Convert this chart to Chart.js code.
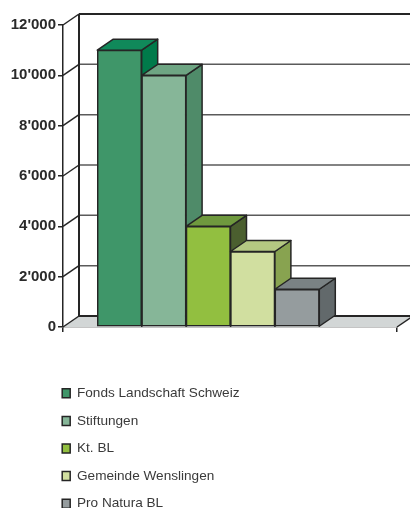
<!DOCTYPE html>
<html>
<head>
<meta charset="utf-8">
<style>
  html, body { margin: 0; padding: 0; background: #fff; overflow: hidden; }
  #wrap { width: 410px; height: 508px; }
</style>
<script src="https://cdn.jsdelivr.net/npm/chart.js@4"></script>
</head>
<body>
<div id="wrap"><canvas id="chart" width="410" height="508"></canvas></div>
<script>
const seriesNames = ["Fonds Landschaft Schweiz", "Stiftungen", "Kt. BL", "Gemeinde Wenslingen", "Pro Natura BL"];
const seriesValues = [11000, 10000, 4000, 3000, 1500];
const frontColors = ["#3f9669", "#86b698", "#92bf40", "#d1dfa0", "#959c9e"];
const topColors = ["#10895a", "#6ea583", "#6f993e", "#b4c882", "#7a8284"];
const sideColors = ["#007a4a", "#4f8b69", "#4b5f2f", "#88a350", "#62696b"];

const depthX = 16;
const depthY = -11;
const outline = "#252525";

function line(ctx, x1, y1, x2, y2, color, width) {
    ctx.beginPath();
    ctx.moveTo(x1, y1);
    ctx.lineTo(x2, y2);
    ctx.strokeStyle = color;
    ctx.lineWidth = width;
    ctx.stroke();
}

function poly(ctx, pts, fill) {
    ctx.beginPath();
    pts.forEach((p, i) => i ? ctx.lineTo(p[0], p[1]) : ctx.moveTo(p[0], p[1]));
    ctx.closePath();
    ctx.fillStyle = fill;
    ctx.fill();
    ctx.strokeStyle = outline;
    ctx.lineWidth = 1.5;
    ctx.lineJoin = "round";
    ctx.stroke();
}

// floor, back wall and grid, hanging off the y scale
const walls = {
    id: 'walls',
    beforeDatasetsDraw(chart) {
        const ctx = chart.ctx, a = chart.chartArea, y = chart.scales.y;
        const base = y.getPixelForValue(0), top = y.getPixelForValue(12000);
        ctx.save();
        ctx.beginPath();
        ctx.moveTo(a.left, base);
        ctx.lineTo(a.left + depthX, base + depthY);
        ctx.lineTo(a.right + depthX, base + depthY);
        ctx.lineTo(a.right, base);
        ctx.closePath();
        ctx.fillStyle = "#d2d6d6";
        ctx.fill();
        y.ticks.forEach(t => {
            const p = y.getPixelForValue(t.value);
            const edge = t.value === 0 || t.value === 12000;
            line(ctx, a.left + depthX, p + depthY, a.right + depthX, p + depthY, edge ? outline : "#5a5a5a", edge ? 2 : 1.5);
            line(ctx, a.left, p, a.left + depthX, p + depthY, outline, 1.5);
        });
        line(ctx, a.left + depthX, top + depthY, a.left + depthX, base + depthY, outline, 2);
        line(ctx, a.right, base, a.right + depthX, base + depthY, outline, 1.5);
        ctx.restore();
    }
};

// bars go left to right so each front covers the previous side face
const bars3d = {
    id: 'bars3d',
    beforeDatasetDraw() {
        return false;
    },
    afterDatasetsDraw(chart) {
        const ctx = chart.ctx;
        ctx.save();
        seriesValues.forEach((v, i) => {
            const el = chart.getDatasetMeta(i).data[0];
            const l = el.x - el.width / 2, r = el.x + el.width / 2, t = el.y, b = el.base;
            poly(ctx, [[r, t], [r + depthX, t + depthY], [r + depthX, b + depthY], [r, b]], sideColors[i]);
            poly(ctx, [[l, t], [l + depthX, t + depthY], [r + depthX, t + depthY], [r, t]], topColors[i]);
            el.draw(ctx);
        });
        ctx.restore();
    }
};

// take the legend out of the layout, it sits in one column under the plot
const legendColumn = {
    id: 'legendColumn',
    beforeLayout(chart) {
        Chart.layouts.removeBox(chart, chart.legend);
    },
    afterLayout(chart) {
        const lg = chart.legend;
        lg.update(300, 160, { left: 0, right: 0, top: 0, bottom: 0 });
        lg.left = 48.2;
        lg.right = lg.left + lg.width;
        lg.top = 372.5;
        lg.bottom = 537;
        lg.height = 165;
    },
    afterDraw(chart) {
        chart.legend.draw();
    }
};

const chart = new Chart(document.getElementById('chart'), {
    type: 'bar',
    data: {
        datasets: seriesNames.map((name, i) => ({
            label: name,
            data: [{ x: 0, y: seriesValues[i] }],
            backgroundColor: frontColors[i],
            borderColor: outline,
            borderWidth: 1.5,
            borderSkipped: false,
            barThickness: 44.4,
        }))
    },
    plugins: [walls, bars3d, legendColumn],
    options: {
        responsive: false,
        animation: false,
        layout: { padding: { top: 25, right: 13, bottom: 176, left: 0 } },
        plugins: {
            tooltip: { enabled: false },
            legend: {
                position: 'left',
                align: 'start',
                labels: {
                    boxWidth: 8,
                    boxHeight: 9,
                    padding: 14,
                    color: "#3a3a3a",
                    font: { family: "'Liberation Sans', Arial, sans-serif", size: 13.6 },
                },
            },
        },
        scales: {
            x: {
                type: 'linear',
                offset: false,
                min: -0.435,
                max: 0.565,
                afterBuildTicks: s => { s.ticks = [{ value: s.min }, { value: s.max }]; },
                afterFit: s => { s.height = 5; },
                ticks: { callback: () => '', padding: 0 },
                grid: { offset: false, drawOnChartArea: false, tickLength: 5, color: outline, lineWidth: 1.5 },
                border: { color: "#8a8a8a", width: 1.5 },
            },
            y: {
                min: 0,
                max: 12000,
                afterFit: s => { s.width = 63; },
                ticks: {
                    stepSize: 2000,
                    padding: 2,
                    color: "#2a2a2a",
                    font: { family: "'Liberation Sans', Arial, sans-serif", size: 15, weight: 'bold' },
                    callback: v => String(v).replace(/\B(?=(\d{3})+$)/g, "'"),
                },
                grid: { drawOnChartArea: false, tickLength: 5, color: outline, lineWidth: 1.5 },
                border: { color: outline, width: 1.5 },
            },
        },
    },
});
</script>
</body>
</html>
